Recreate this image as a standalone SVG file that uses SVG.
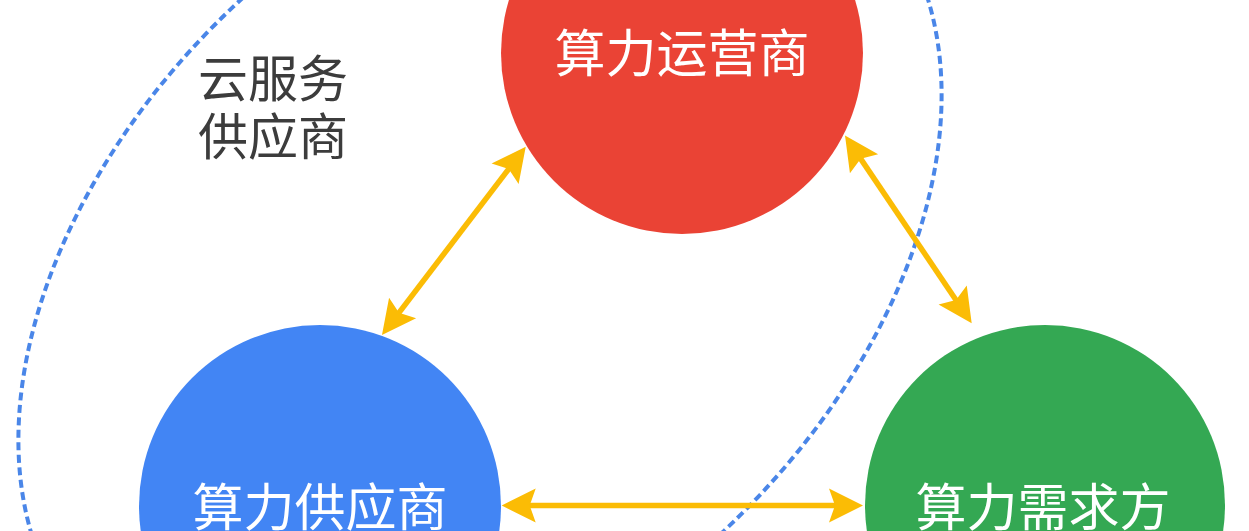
<svg xmlns="http://www.w3.org/2000/svg" width="1249" height="531" viewBox="0 0 1249 531">
<style>
.node-label{font-family:"Noto Sans CJK SC","Noto Sans",sans-serif;font-size:51px;fill:#ffffff;text-anchor:middle}
.group-label{font-family:"Noto Sans CJK SC","Noto Sans",sans-serif;font-size:50px;fill:#3c3c3c}
.conn{stroke:#fbbc05;stroke-width:5.5;fill:none;marker-start:url(#ah);marker-end:url(#ah)}
.boundary{fill:none;stroke:#4a86e8;stroke-width:4;stroke-dasharray:8 4.5}
</style>
<defs>
<marker id="ah" markerUnits="userSpaceOnUse" viewBox="-40 -20 45 40" markerWidth="45" markerHeight="40" refX="-20" refY="0" orient="auto-start-reverse">
<path d="M0,0 L-34,-17 L-28,0 L-34,17 Z" fill="#fbbc05"/>
</marker>
</defs>
<rect width="1249" height="531" fill="#ffffff"/>
<g id="cloud-provider-boundary">
<ellipse class="boundary" cx="480" cy="267.5" rx="537" ry="359" transform="rotate(-43.4 480 267.5)"/>
<text class="group-label" x="198" y="97">云服务</text>
<text class="group-label" x="198" y="155">供应商</text>
</g>
<g id="node-operator">
<circle cx="682" cy="53" r="181" fill="#ea4335"/>
<text class="node-label" x="682" y="72">算力运营商</text>
</g>
<g id="node-supplier">
<circle cx="320" cy="506" r="181" fill="#4285f4"/>
<text class="node-label" x="320" y="526">算力供应商</text>
</g>
<g id="node-demand">
<circle cx="1045" cy="505" r="180" fill="#34a853"/>
<text class="node-label" x="1043" y="526">算力需求方</text>
</g>
<g id="connectors">
<line class="conn" x1="394.1" y1="319.1" x2="513.6" y2="162.6"/>
<line class="conn" x1="856.2" y1="152.1" x2="960.5" y2="306.7"/>
<line class="conn" x1="521.7" y1="505.5" x2="843" y2="505.5"/>
</g>
</svg>
